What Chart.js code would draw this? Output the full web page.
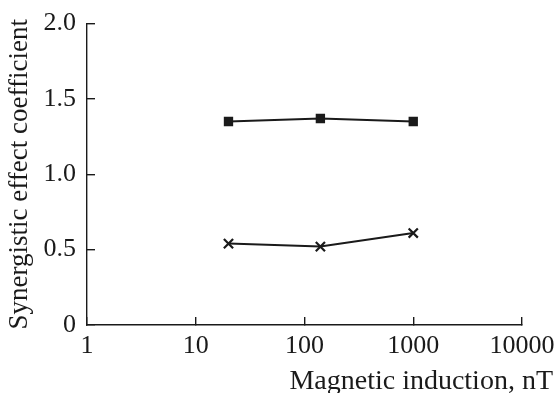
<!DOCTYPE html>
<html>
<head>
<meta charset="utf-8">
<script src="https://cdn.jsdelivr.net/npm/chart.js@4"></script>
<style>
  html, body { margin: 0; padding: 0; background: #fff; }
  #wrap { width: 556px; height: 393px; }
</style>
</head>
<body>
<div id="wrap"><canvas id="synergyChart" width="556" height="393"></canvas></div>
<script>
// values
const inductionNT = [20, 140, 1000];
const squareSeries = [1.35, 1.37, 1.35];
const crossSeries = [0.54, 0.52, 0.61];
const xTickValues = [1, 10, 100, 1000, 10000];
const yTickValues = [0, 0.5, 1.0, 1.5, 2.0];
const yTickLabels = ['0', '0.5', '1.0', '1.5', '2.0'];

const FONT = "'Liberation Serif', 'Times New Roman', serif";
const INK = '#1a1a1a';

// x axis title sits right-aligned at the canvas edge, below the tick labels
const xTitlePlugin = {
  id: 'xTitle',
  afterDraw(chart) {
    const ctx = chart.ctx;
    const xs = chart.scales.x;
    ctx.save();
    ctx.font = '28px ' + FONT;
    ctx.fillStyle = INK;
    ctx.textAlign = 'right';
    ctx.textBaseline = 'alphabetic';
    ctx.fillText('Magnetic induction, nT', chart.width - 3, xs.bottom - 4);
    ctx.restore();
  }
};

const ctx = document.getElementById('synergyChart').getContext('2d');
new Chart(ctx, {
  type: 'line',
  data: {
    datasets: [
      {
        label: 'squares',
        data: inductionNT.map((x, i) => ({ x: x, y: squareSeries[i] })),
        borderColor: INK,
        backgroundColor: INK,
        borderWidth: 2,
        pointStyle: 'rect',
        pointRadius: 6.6,
        pointBorderWidth: 0,
        pointBackgroundColor: INK,
      },
      {
        label: 'crosses',
        data: inductionNT.map((x, i) => ({ x: x, y: crossSeries[i] })),
        borderColor: INK,
        backgroundColor: INK,
        borderWidth: 2,
        pointStyle: 'crossRot',
        pointRadius: 6.5,
        pointBorderWidth: 2.2,
        pointBorderColor: INK,
      },
    ],
  },
  options: {
    responsive: false,
    animation: false,
    layout: { padding: { left: 4, top: 1, right: 0, bottom: 0 } },
    plugins: {
      legend: { display: false },
      tooltip: { enabled: false },
    },
    scales: {
      x: {
        type: 'logarithmic',
        min: 1,
        max: 10000,
        afterBuildTicks: (axis) => {
          axis.ticks = xTickValues.map((v) => ({ value: v }));
        },
        afterFit: (axis) => {
          // room for tick labels + title below, half of "10000" to the right
          axis.height = 68;
          axis.paddingLeft = 0;
          axis.paddingRight = 34;
        },
        border: { color: INK, width: 1.4 },
        grid: {
          drawOnChartArea: false,
          drawTicks: true,
          tickLength: -8,
          color: INK,
          lineWidth: 1.4,
        },
        ticks: {
          padding: 14,
          color: INK,
          font: { family: FONT, size: 26 },
          maxRotation: 0,
          autoSkip: false,
          callback: (v) => String(v),
        },
      },
      y: {
        min: 0,
        max: 2,
        afterBuildTicks: (axis) => {
          axis.ticks = yTickValues.map((v) => ({ value: v }));
        },
        afterFit: (axis) => {
          axis.width = 83;
          axis.paddingTop = 23.5;
          axis.paddingBottom = 0;
        },
        border: { color: INK, width: 1.4 },
        grid: {
          drawOnChartArea: false,
          drawTicks: true,
          tickLength: -8,
          color: INK,
          lineWidth: 1.4,
        },
        ticks: {
          padding: 19,
          color: INK,
          font: { family: FONT, size: 26 },
          callback: (v) => yTickLabels[yTickValues.indexOf(v)],
        },
        title: {
          display: true,
          text: 'Synergistic effect coefficient',
          color: INK,
          font: { family: FONT, size: 27 },
          padding: { top: 0, bottom: 4 },
        },
      },
    },
  },
  plugins: [xTitlePlugin],
});
</script>
</body>
</html>
